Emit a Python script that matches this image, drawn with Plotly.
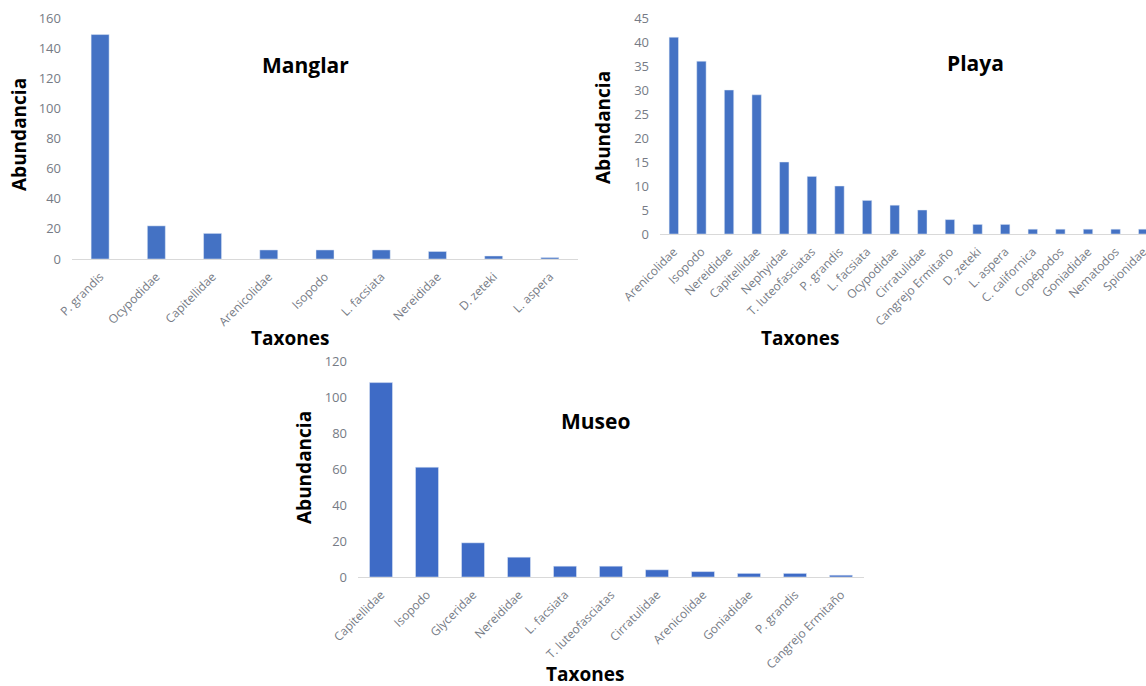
import plotly.graph_objects as go

# Abundance of taxa per sampling site
manglar_taxa = ["P. grandis", "Ocypodidae", "Capitellidae", "Arenicolidae", "Isopodo",
                "L. facsiata", "Nereididae", "D. zeteki", "L. aspera"]
manglar_vals = [149, 22, 17, 6, 6, 6, 5, 2, 1]

playa_taxa = ["Arenicolidae", "Isopodo", "Nereididae", "Capitellidae", "Nephyidae",
              "T. luteofasciatas", "P. grandis", "L. facsiata", "Ocypodidae", "Cirratulidae",
              "Cangrejo Ermitaño", "D. zeteki", "L. aspera", "C. californica", "Copépodos",
              "Goniadidae", "Nematodos", "Spionidae"]
playa_vals = [41, 36, 30, 29, 15, 12, 10, 7, 6, 5, 3, 2, 2, 1, 1, 1, 1, 1]

museo_taxa = ["Capitellidae", "Isopodo", "Glyceridae", "Nereididae", "L. facsiata",
              "T. luteofasciatas", "Cirratulidae", "Arenicolidae", "Goniadidae",
              "P. grandis", "Cangrejo Ermitaño"]
museo_vals = [108, 61, 19, 11, 6, 6, 4, 3, 2, 2, 1]

W, H = 1146, 686
FONT = "'Open Sans', sans-serif"
XTICK = dict(family=FONT, size=12, color="#767b85")
YTICK = dict(family=FONT, size=13, color="#767b85")
BLUE = "#4472C4"
MUSEO_BLUE = "#3e6bc6"


def px_x(p):
    return p / W


def px_y(p):
    return 1 - p / H


fig = go.Figure()
fig.add_trace(go.Bar(x=manglar_taxa, y=manglar_vals, marker_color=BLUE, width=0.32,
                     xaxis="x", yaxis="y"))
fig.add_trace(go.Bar(x=playa_taxa, y=playa_vals, marker_color=BLUE, width=0.34,
                     xaxis="x2", yaxis="y2"))
fig.add_trace(go.Bar(x=museo_taxa, y=museo_vals, marker_color=MUSEO_BLUE, width=0.5,
                     xaxis="x3", yaxis="y3"))


def xax(domain, anchor, rng):
    return dict(domain=domain, anchor=anchor, range=rng, tickangle=-45, tickfont=XTICK,
                showline=True, linecolor="#d9d9d9", linewidth=1, showgrid=False,
                zeroline=False, ticks="", ticklabelstandoff=5, fixedrange=True,
                automargin=False)


def yax(domain, anchor, rng, dtick):
    return dict(domain=domain, anchor=anchor, range=rng, dtick=dtick, tickfont=YTICK,
                showgrid=False, zeroline=False, showline=False, ticks="",
                ticklabelstandoff=10, fixedrange=True, automargin=False)


fig.update_layout(
    width=W, height=H, showlegend=False,
    paper_bgcolor="white", plot_bgcolor="white",
    margin=dict(l=0, r=0, t=0, b=0),
    font=dict(family=FONT),
    xaxis=xax([px_x(72), px_x(578)], "y", [-0.5, 8.5]),
    yaxis=yax([px_y(259), px_y(18)], "x", [0, 160], 20),
    xaxis2=xax([px_x(660), 1.0], "y2", [-0.5, 17.1]),
    yaxis2=yax([px_y(234), px_y(18)], "x2", [0, 45], 5),
    xaxis3=xax([px_x(358), px_x(864)], "y3", [-0.5, 10.5]),
    yaxis3=yax([px_y(577), px_y(361)], "x3", [0, 120], 20),
)

labels = [
    ("Manglar", 305, 65, 21, 0),
    ("Playa", 975, 63, 21, 0),
    ("Museo", 595, 421, 21, 0),
    ("Taxones", 290, 338, 19, 0),
    ("Taxones", 800, 338, 19, 0),
    ("Taxones", 585, 674, 19, 0),
    ("Abundancia", 19, 135, 19, -90),
    ("Abundancia", 603, 128, 19, -90),
    ("Abundancia", 304, 468, 19, -90),
]
for text, x, y, size, ang in labels:
    fig.add_annotation(text=f"<b>{text}</b>", x=px_x(x), y=px_y(y), xref="paper",
                       yref="paper", showarrow=False, textangle=ang,
                       font=dict(family=FONT, size=size, color="black"),
                       xanchor="center", yanchor="middle")

fig.write_html("out.html")
